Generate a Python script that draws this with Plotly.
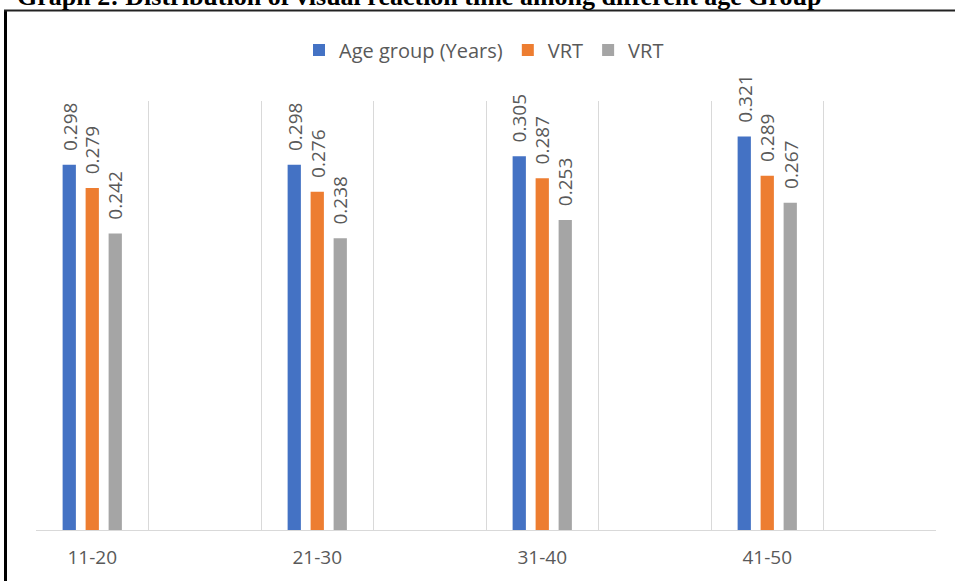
import plotly.graph_objects as go

# Visual reaction time by age group
age_groups = ["11-20", "21-30", "31-40", "41-50"]
series_names = ["Age group (Years)", "VRT", "VRT"]
series_values = [
    [0.298, 0.298, 0.305, 0.321],
    [0.279, 0.276, 0.287, 0.289],
    [0.242, 0.238, 0.253, 0.267],
]
colors = ["#4472C4", "#ED7D31", "#A5A5A5"]

title_text = "Graph 2: Distribution of visual reaction time among different age Group"

W, H = 955, 581
ML, MR, MT, MB = 36, 19, 101, 51
PW, PH = W - ML - MR, H - MT - MB

# each age group occupies every other slot on the category axis
positions = [2 * i for i in range(len(age_groups))]
slot = 0.2044      # distance between bar centres within a group
bar_w = 0.118      # bar width in axis units

label_color = "#595959"
grid_color = "#D9D9D9"

fig = go.Figure()
for k, (name, vals, col) in enumerate(zip(series_names, series_values, colors)):
    shift = (k - 1) * slot
    fig.add_trace(go.Bar(
        x=positions, y=vals, name=name,
        marker=dict(color=col, line=dict(width=0)),
        width=bar_w, offset=shift - bar_w / 2,
        hoverinfo="skip",
    ))
    for p, v in zip(positions, vals):
        fig.add_annotation(
            x=p + shift, y=v, xref="x", yref="y",
            text=f"{v:.3f}", textangle=-90,
            showarrow=False, xanchor="center", yanchor="bottom", yshift=12,
            font=dict(family="Open Sans", size=19, color=label_color),
        )


def px_x(px):
    return (px - ML) / PW


def px_y(py):
    return (H - MB - py) / PH


# chart frame: heavy left edge and top edge
fig.add_shape(type="line", xref="paper", yref="paper",
              x0=px_x(5.5), x1=px_x(5.5), y0=px_y(10), y1=px_y(600),
              line=dict(color="#000000", width=3))
fig.add_shape(type="line", xref="paper", yref="paper",
              x0=px_x(4), x1=px_x(960), y0=px_y(10.5), y1=px_y(10.5),
              line=dict(color="#222222", width=2))

# caption above the frame
fig.add_annotation(
    x=px_x(419), y=px_y(13), xref="paper", yref="paper",
    text="<b>" + title_text + "</b>", showarrow=False,
    xanchor="center", yanchor="bottom",
    font=dict(family="Liberation Serif", size=26, color="#000000"),
)

fig.update_layout(
    width=W, height=H,
    margin=dict(l=ML, r=MR, t=MT, b=MB, pad=0, autoexpand=False),
    paper_bgcolor="white", plot_bgcolor="white",
    barmode="overlay",
    showlegend=True,
    legend=dict(
        orientation="h", x=px_x(484), y=px_y(50),
        xanchor="center", yanchor="middle",
        font=dict(family="Open Sans", size=20, color=label_color),
        itemwidth=30, tracegroupgap=0,
        bgcolor="rgba(0,0,0,0)",
    ),
    xaxis=dict(
        range=[-0.5, 7.5], automargin=False,
        tickvals=positions, ticktext=age_groups,
        showgrid=False, zeroline=False,
        showline=True, linecolor=grid_color, linewidth=1,
        ticks="", ticklabelstandoff=10,
        tickfont=dict(family="Open Sans", size=19, color=label_color),
        minor=dict(
            tickvals=[i - 0.5 for i in range(9)],
            showgrid=True, gridcolor=grid_color, gridwidth=1, ticks="",
        ),
    ),
    yaxis=dict(
        range=[0, 0.35], visible=False, showgrid=False, zeroline=False,
        automargin=False,
    ),
)

fig.write_html("out.html")
